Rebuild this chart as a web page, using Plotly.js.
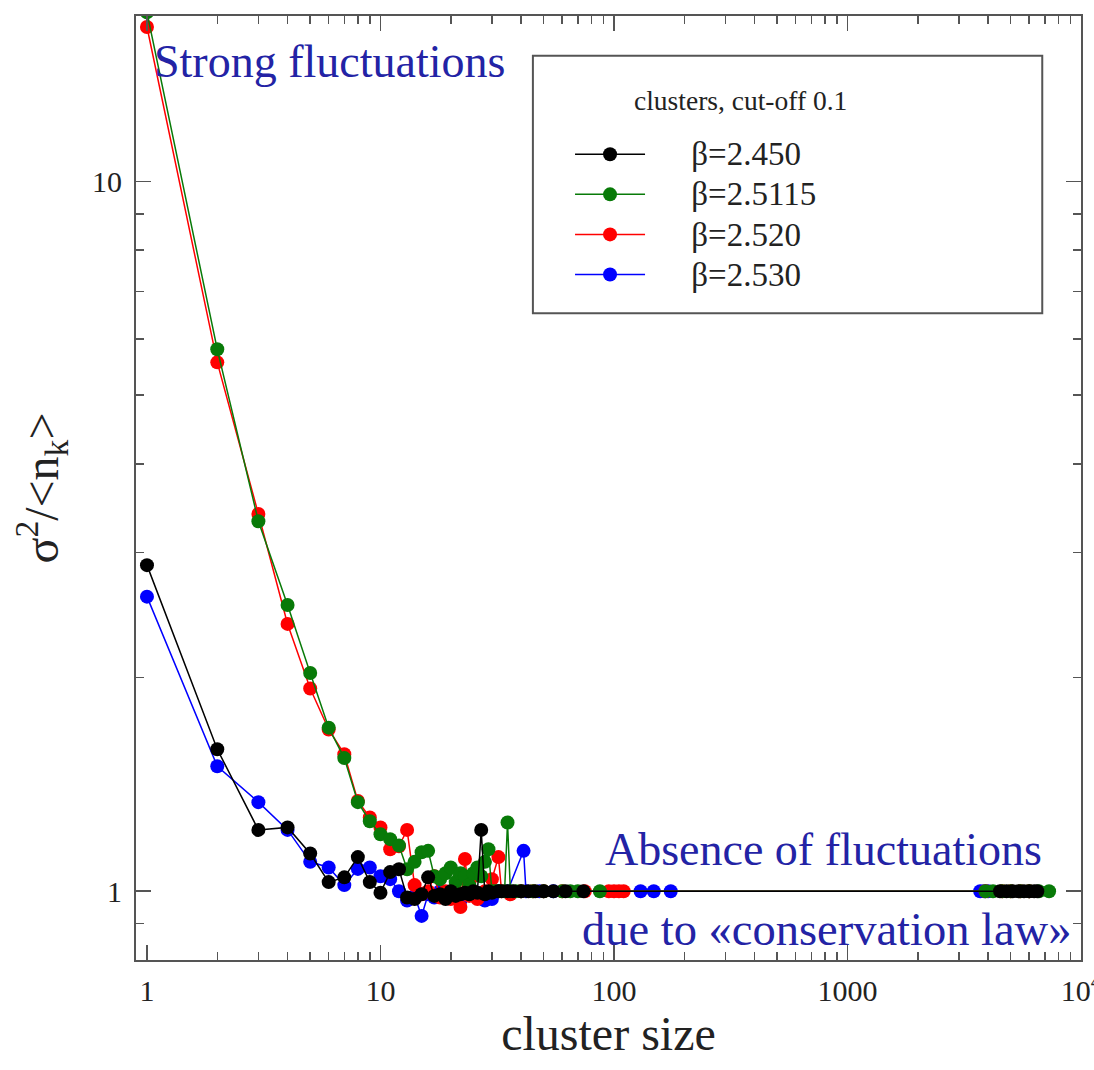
<!DOCTYPE html>
<html>
<head>
<meta charset="utf-8">
<script src="https://cdn.plot.ly/plotly-3.0.1.min.js"></script>
<style>html,body{margin:0;padding:0;background:#fff;}</style>
</head>
<body>
<div id="chart" style="width:1094px;height:1070px;"></div>
<script>
// ---- data ----
const seriesNames = ["β=2.450", "β=2.5115", "β=2.520", "β=2.530"];
const legendTitle = "clusters, cut-off 0.1";

const blackX = [1,2,3,4,5,6,7,8,9,10,11,12,13,14,15,16,17,18,19,20,21,22,23,24,25,26,27,28,29,30,32,33,35,37,40,43,46,50,55,62,74,4500,4800,5100,5400,5700,6000,6300,6500];
const blackY = [2.88,1.585,1.22,1.23,1.13,1.03,1.046,1.117,1.03,0.995,1.064,1.074,0.98,0.975,0.99,1.046,0.985,0.99,0.975,1.0,0.985,0.99,0.995,0.99,1.0,0.995,1.22,0.99,1.0,0.995,1.0,1.0,1.0,1.0,1.0,1.0,1.0,1.0,1.0,1.0,1.0,1.0,1.0,1.0,1.0,1.0,1.0,1.0,1.0];

const greenX = [1,2,3,4,5,6,7,8,9,10,11,12,13,14,15,16,17,18,19,20,21,22,23,24,25,26,27,28,29,30,31,32,34,35,36,38,40,45,50,60,65,70,87,3900,4200,4600,5000,5500,6000,6600,7300];
const greenY = [17.3,5.80,3.32,2.53,2.03,1.70,1.54,1.335,1.255,1.203,1.184,1.16,1.074,1.10,1.135,1.14,1.05,1.04,1.06,1.08,1.03,1.06,1.05,1.02,1.06,1.08,1.05,1.10,1.146,1.0,1.0,1.0,1.0,1.25,1.0,1.0,1.0,1.0,1.0,1.0,1.0,1.0,1.0,1.0,1.0,1.0,1.0,1.0,1.0,1.0,1.0];

const redX = [1,2,3,4,5,6,7,8,9,10,11,12,13,14,15,16,17,18,19,20,21,22,23,24,25,26,28,30,32,33,36,40,45,50,60,75,95,100,105,110,3900,4600,5000,5500,6000];
const redY = [16.5,5.56,3.40,2.38,1.93,1.69,1.56,1.34,1.27,1.23,1.146,1.157,1.22,1.02,0.99,1.0,1.05,0.98,1.0,0.975,1.0,0.95,1.11,0.985,1.05,0.975,1.0,1.04,1.117,1.0,0.99,1.0,1.0,1.0,1.0,1.0,1.0,1.0,1.0,1.0,1.0,1.0,1.0,1.0,1.0];

const blueX = [1,2,3,4,5,6,7,8,9,10,11,12,13,14,15,16,17,18,19,20,22,24,26,28,30,32,35,41,42,48,55,130,148,175,3700,3850,4000];
const blueY = [2.60,1.50,1.335,1.22,1.10,1.08,1.02,1.075,1.08,1.05,1.04,1.0,0.97,0.985,0.923,0.99,0.98,1.0,0.985,0.99,0.97,1.0,0.985,0.97,0.975,1.0,1.0,1.14,1.0,1.0,1.0,1.0,1.0,1.0,1.0,1.0,1.0];

const xTickVals = [1, 10, 100, 1000, 10000];
const xTickText = ["1", "10", "100", "1000", "10<sup>4</sup>"];
const yTickVals = [1, 10];
const yTickText = ["1", "10"];

// ---- figure ----
const serif = "Liberation Serif, Times New Roman, serif";
const annBlue = "rgb(35,35,165)";
const pad = "\u00a0\u00a0\u00a0\u00a0\u00a0";

function trace(x, y, name, color) {
  return {
    x: x, y: y, name: '<span style="font-size:33px">' + pad + name + '</span>',
    type: "scatter", mode: "lines+markers",
    line: {color: color, width: 1.5},
    marker: {color: color, size: 14},
    cliponaxis: true
  };
}

const data = [
  trace(blueX, blueY, seriesNames[3], "#0000ff"),
  trace(redX, redY, seriesNames[2], "#ff0000"),
  trace(greenX, greenY, seriesNames[1], "#087a08"),
  trace(blackX, blackY, seriesNames[0], "#000000")
];

const axisCommon = {
  type: "log",
  showgrid: false,
  zeroline: false,
  showline: true,
  linecolor: "#555",
  linewidth: 2,
  mirror: "allticks",
  ticks: "inside",
  ticklen: 15,
  tickwidth: 1.5,
  tickcolor: "#555",
  minor: {ticks: "inside", ticklen: 8, tickwidth: 1.5, tickcolor: "#555", dtick: "D1", showgrid: false},
  tickfont: {family: serif, size: 30, color: "#222"},
  ticklabeloverflow: "allow"
};

const layout = {
  width: 1094, height: 1070,
  margin: {l: 136, r: 13, t: 16, b: 110},
  paper_bgcolor: "#fff", plot_bgcolor: "#fff",
  showlegend: true,
  xaxis: Object.assign({}, axisCommon, {
    range: [-0.047, 4],
    tickmode: "array", tickvals: xTickVals, ticktext: xTickText,
    ticklabelstandoff: 3,
    title: {text: "cluster size", font: {family: serif, size: 48, color: "#222"}, standoff: 1}
  }),
  yaxis: Object.assign({}, axisCommon, {
    range: [-0.0969, 1.233],
    tickmode: "array", tickvals: yTickVals, ticktext: yTickText,
    ticklabelstandoff: 6,
    title: {text: "σ<sup>2</sup>/&lt;n<sub>k</sub>&gt;", font: {family: serif, size: 48, color: "#222"}, standoff: 18}
  }),
  legend: {
    x: 0.4593, y: 0.880, xanchor: "left", yanchor: "top",
    bgcolor: "rgba(0,0,0,0)", borderwidth: 0,
    traceorder: "reversed",
    itemwidth: 70,
    font: {family: serif, size: 28.5, color: "#222"}
  },
  shapes: [{
    type: "rect", xref: "paper", yref: "paper",
    x0: 0.420, x1: 0.959, y0: 0.685, y1: 0.958,
    line: {color: "#555", width: 2}, fillcolor: "rgba(0,0,0,0)", layer: "above"
  }],
  annotations: [
    {text: legendTitle, xref: "paper", yref: "paper", x: 0.525, y: 0.911, xanchor: "left", yanchor: "middle",
     showarrow: false, font: {family: serif, size: 27.5, color: "#222"}},
    {text: "Strong fluctuations", xref: "paper", yref: "paper", x: 0.017, y: 0.952, xanchor: "left", yanchor: "middle",
     showarrow: false, font: {family: serif, size: 46, color: annBlue}},
    {text: "Absence of fluctuations", xref: "paper", yref: "paper", x: 0.961, y: 0.117, xanchor: "right", yanchor: "middle",
     showarrow: false, font: {family: serif, size: 46, color: annBlue}},
    {text: "due to «conservation law»", xref: "paper", yref: "paper", x: 0.992, y: 0.032, xanchor: "right", yanchor: "middle",
     showarrow: false, font: {family: serif, size: 46.5, color: annBlue}}
  ]
};

Plotly.newPlot("chart", data, layout, {displayModeBar: false, staticPlot: true});
</script>
</body>
</html>
